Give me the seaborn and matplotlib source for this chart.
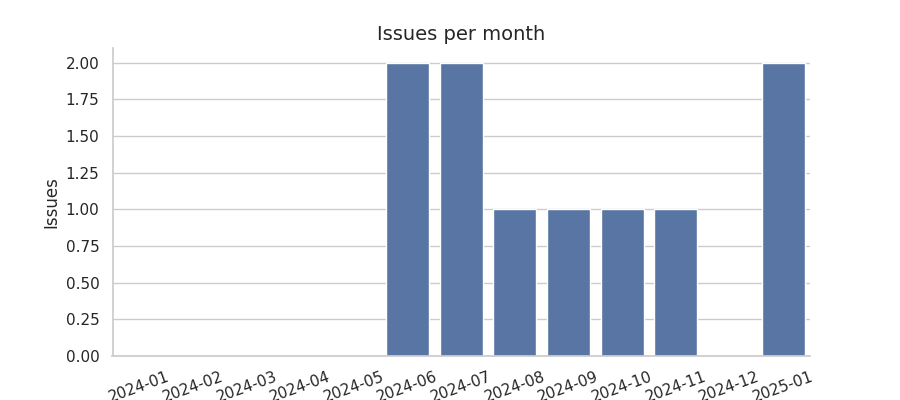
import matplotlib
matplotlib.use("Agg")
import matplotlib.pyplot as plt
import seaborn as sns
import pandas as pd

months = ["2024-01", "2024-02", "2024-03", "2024-04", "2024-05", "2024-06", "2024-07",
          "2024-08", "2024-09", "2024-10", "2024-11", "2024-12", "2025-01"]
issues = [0, 0, 0, 0, 0, 2, 2, 1, 1, 1, 1, 0, 2]

sns.set_theme(style="whitegrid")
df = pd.DataFrame({"month": months, "issues": issues})

fig, ax = plt.subplots(figsize=(9, 4), dpi=100)
sns.barplot(data=df, x="month", y="issues", color="#4c72b0", ax=ax)
ax.set_title("Issues per month", fontsize=14)
ax.set_xlabel("")
ax.set_ylabel("Issues")
yt = [0, 0.25, 0.5, 0.75, 1.0, 1.25, 1.5, 1.75, 2.0]
ax.set_yticks(yt)
ax.set_yticklabels([f"{v:.2f}" for v in yt])
plt.setp(ax.get_xticklabels(), rotation=20)
sns.despine(ax=ax)
fig.subplots_adjust(left=0.125, right=0.9, top=0.88, bottom=0.11)
fig.savefig("out.png", dpi=100)
